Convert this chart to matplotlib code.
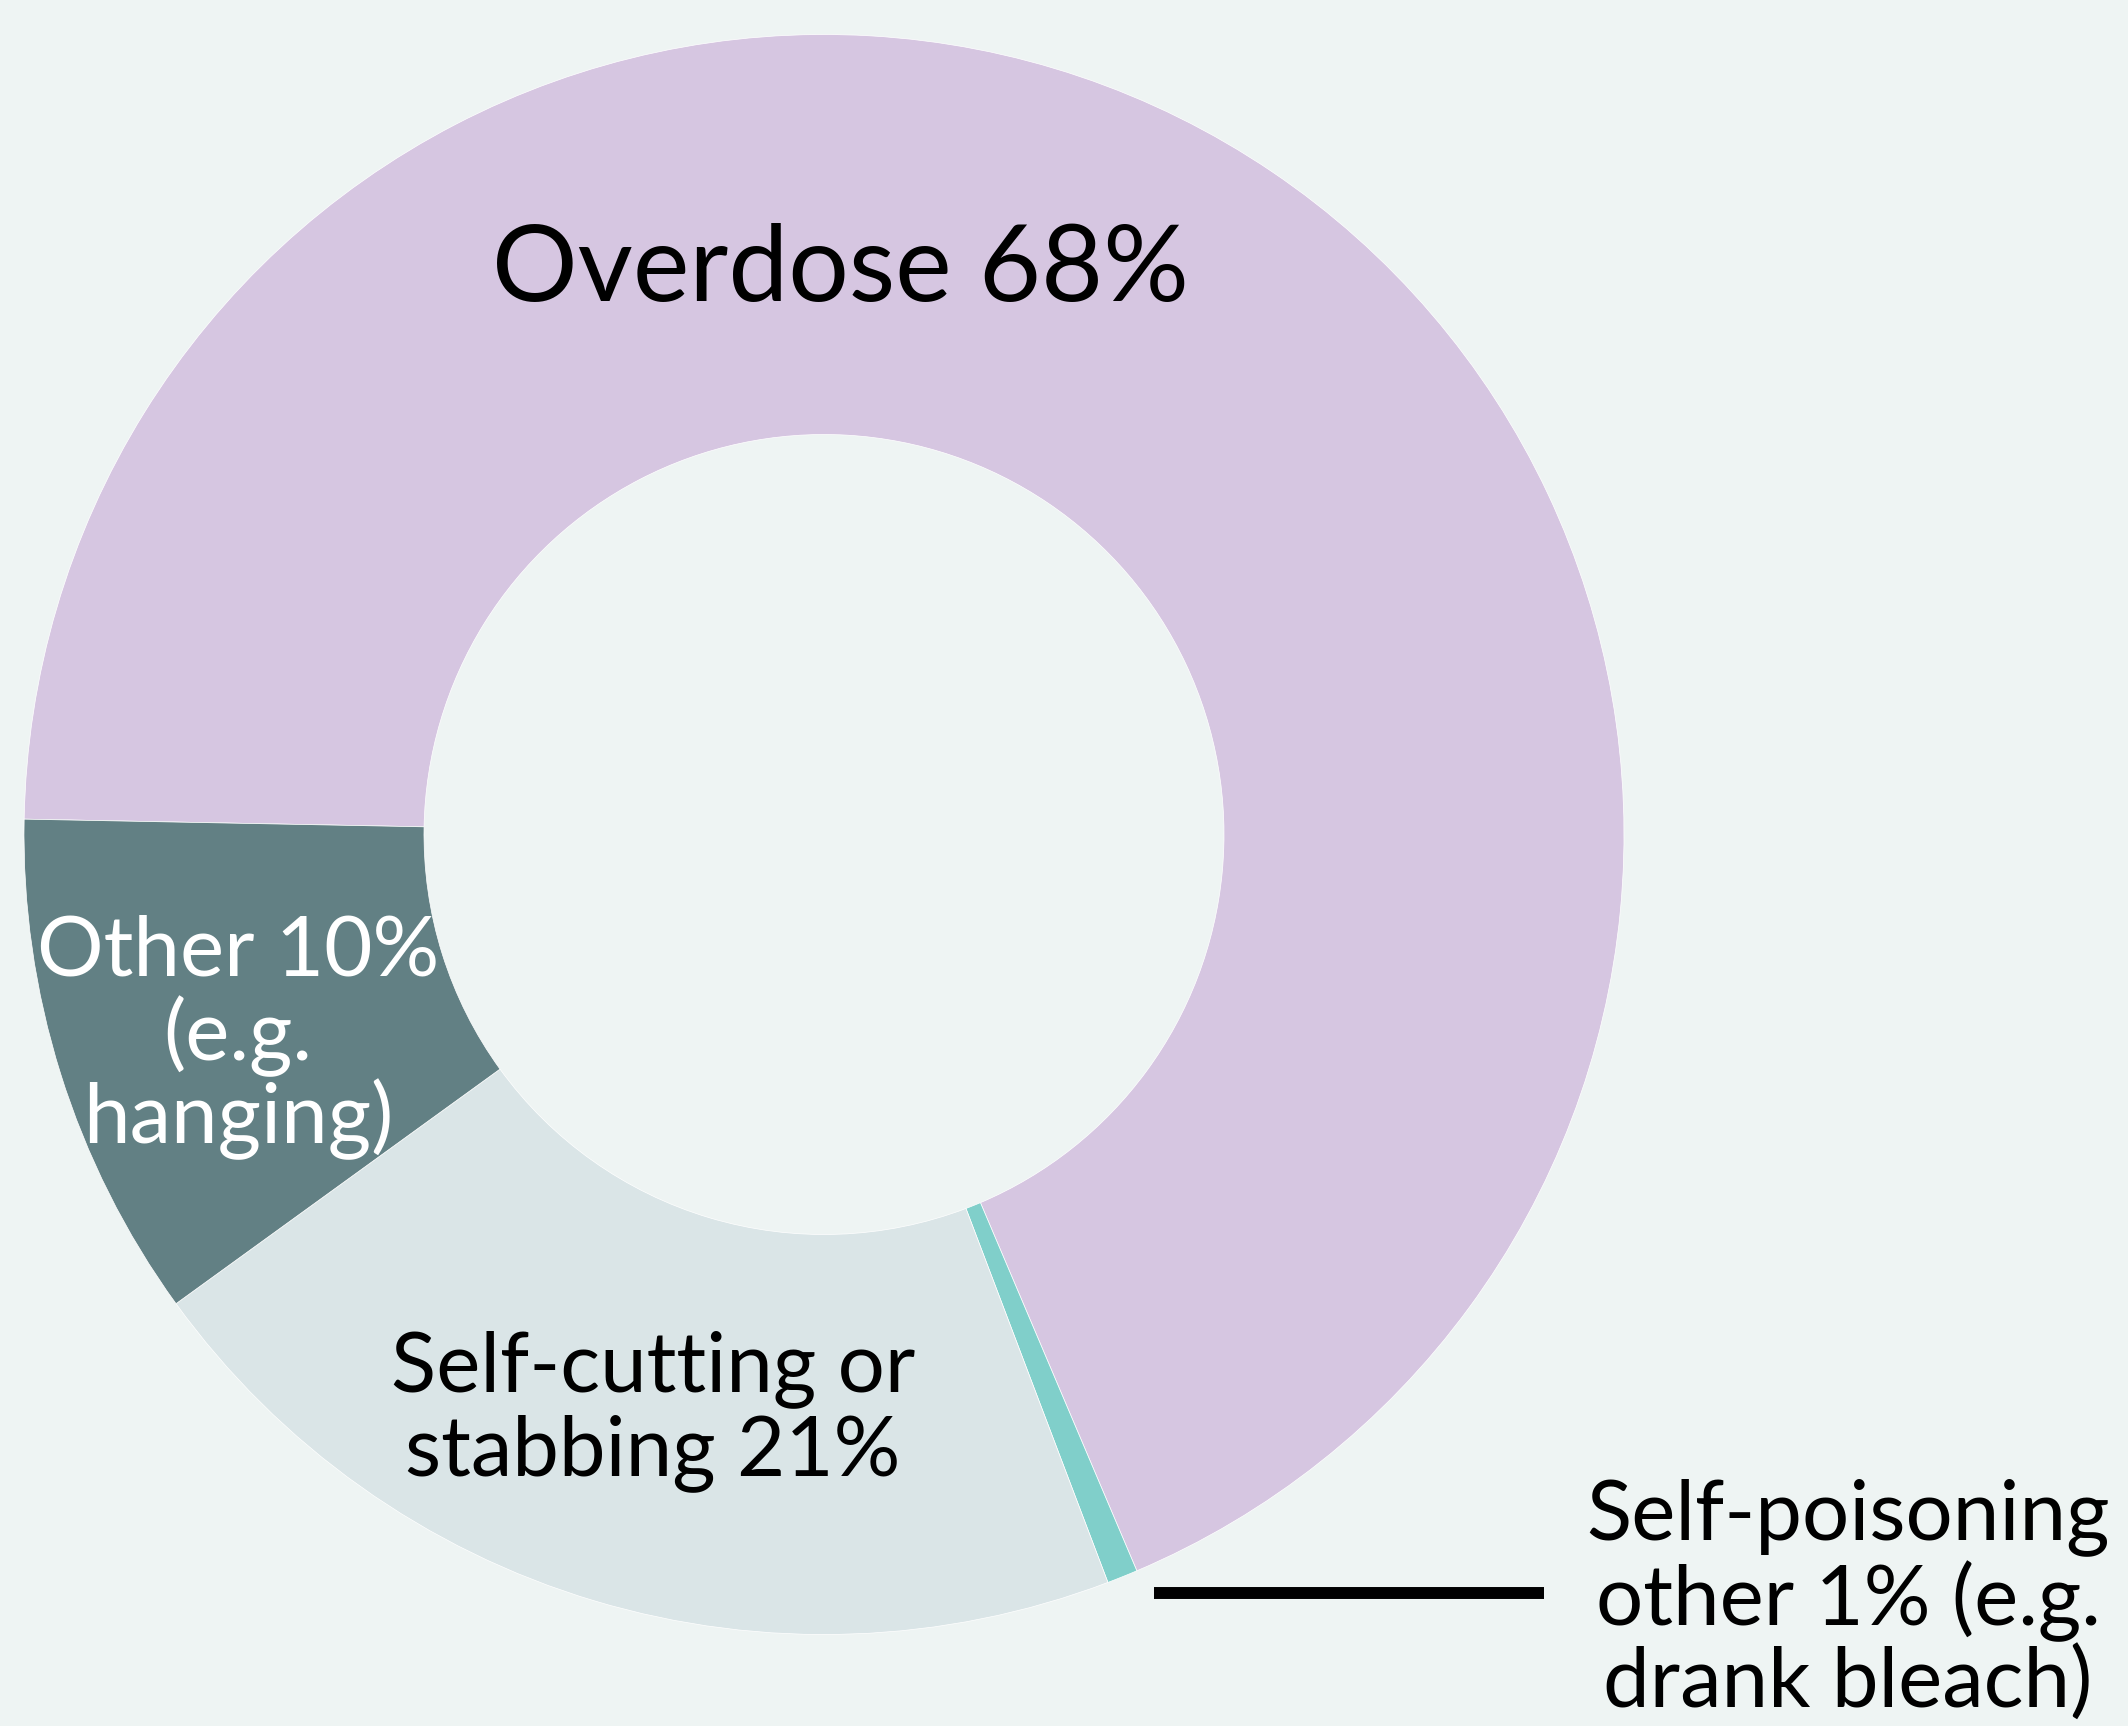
"""Donut chart: methods of self-harm."""
import matplotlib
matplotlib.use("Agg")
import matplotlib.pyplot as plt

# data (slice sizes as measured on the ring; labels carry the rounded figures)
categories = ["Overdose", "Self-poisoning other", "Self-cutting or stabbing", "Other"]
shares = [68.3, 0.62, 20.8, 10.28]
pct_labels = ["68%", "1%", "21%", "10%"]
colors = ["#d6c6e1", "#80cfca", "#dae5e7", "#628084"]

BG = "#eef4f3"
plt.rcParams["font.family"] = ["Lato", "DejaVu Sans"]

W, H, DPI = 2128, 1726, 100
fig = plt.figure(figsize=(W / DPI, H / DPI), dpi=DPI, facecolor=BG)
ax = fig.add_axes([0, 0, 1, 1])
ax.set_facecolor(BG)

ax.pie(shares, colors=colors, startangle=178.9, counterclock=False,
       radius=1.0, wedgeprops=dict(width=0.5, linewidth=0.5, edgecolor="white"))

# pie centre sits at pixel (824, 834.5), outer radius 800 px
# (pie() resets limits/aspect, so set them afterwards)
cx, cy, r_px = 824, 834.5, 800
ax.set_aspect("auto")
ax.set_xlim(-cx / r_px, (W - cx) / r_px)
ax.set_ylim(-(H - cy) / r_px, cy / r_px)
ax.axis("off")

# labels
ax.text(0.021, 0.667, f"{categories[0]} {pct_labels[0]}", fontsize=77,
        color="black", ha="center", va="baseline")

other_lines = [f"{categories[3]} {pct_labels[3]}", "(e.g.", "hanging)"]
for txt, y in zip(other_lines, [-0.1765, -0.2815, -0.3864]):
    ax.text(-0.7325, y, txt, fontsize=60, color="white", ha="center", va="baseline")

cut_lines = ["Self-cutting or", f"stabbing {pct_labels[2]}"]
for txt, y in zip(cut_lines, [-0.6956, -0.8006]):
    ax.text(-0.214, y, txt, fontsize=60, color="black", ha="center", va="baseline")

poison_lines = ["Self-poisoning", f"other {pct_labels[1]} (e.g.", "drank bleach)"]
for txt, y in zip(poison_lines, [-0.8806, -0.988, -1.0919]):
    ax.text(1.28, y, txt, fontsize=60, color="black", ha="center", va="baseline")

# leader line to the 1% slice
ax.plot([0.4125, 0.9], [-0.948, -0.948], color="black", lw=8.6,
        solid_capstyle="butt")

fig.savefig("out.png", dpi=DPI, facecolor=BG)
